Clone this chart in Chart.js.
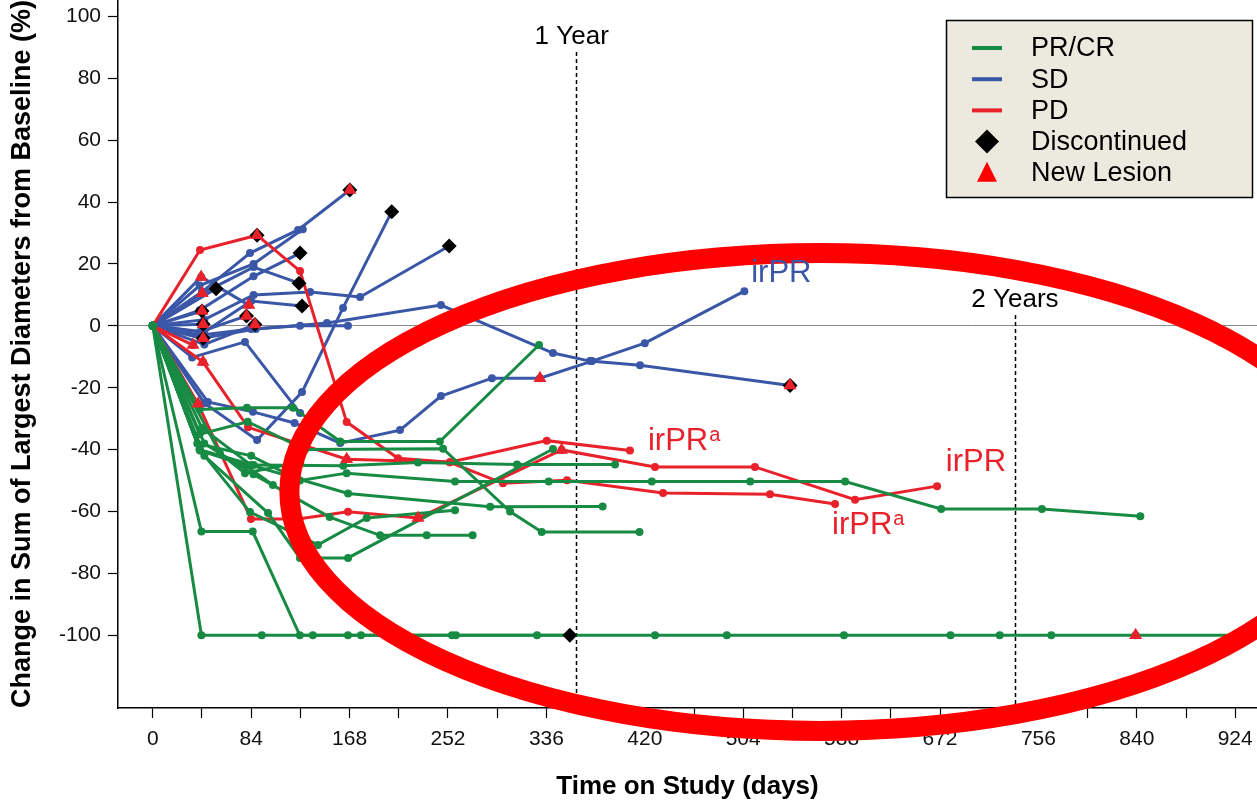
<!DOCTYPE html>
<html>
<head>
<meta charset="utf-8">
<title>Spider plot: change in tumour burden over time</title>
<script src="https://cdn.jsdelivr.net/npm/chart.js@4.4.0/dist/chart.umd.min.js"></script>
<style>
  html, body { margin: 0; padding: 0; background: #ffffff; overflow: hidden; }
  #wrap { width: 1257px; height: 800px; position: relative; }
  canvas { display: block; }
</style>
</head>
<body>
<div id="wrap"><canvas id="spider" width="1257" height="800"></canvas></div>
<script>
// ---- Patient trajectories: [day on study, % change in sum of largest diameters] ----

// PR/CR patients
const prcr01 = [[0,0],[41.5,-100],[93,-100],[166.6,-100],[255.4,-100],[328,-100],[428.7,-100],[490,-100],[590,-100],[681,-100],[723,-100],[767,-100],[839,-100],[958,-100]];
const prcr02 = [[0,0],[41.5,-66.5],[85.3,-66.5],[125.5,-100],[136.6,-100],[177.7,-100],[258.7,-100],[356,-100]];
const prcr03 = [[0,0],[40,-27],[80.4,-26.5],[119.7,-26.5],[160,-37.4],[245,-37.4],[329.7,-6.2]];
const prcr04 = [[0,0],[40,-35],[81,-31],[130,-40],[247.8,-39.7],[305,-60],[332,-66.6],[415.5,-66.6]];
const prcr05 = [[0,0],[38,-38],[84,-42],[125.7,-50],[165.5,-47.6],[258,-50.3],[338,-50.3],[426,-50.3],[510,-50.3],[591,-50.3],[673,-59.2],[759,-59.2],[843,-61.5]];
const prcr06 = [[0,0],[40,-40],[86,-45],[162.6,-45.2],[226.4,-44.2],[310.9,-44.8],[394.6,-44.8]];
const prcr07 = [[0,0],[42,-33],[84,-45],[166.7,-54.2],[288,-58.5],[384,-58.4]];
const prcr08 = [[0,0],[44,-38],[86,-48],[151,-61.8],[194,-67.7],[233.8,-67.7],[273,-67.7]];
const prcr09 = [[0,0],[40,-40],[83,-60.2],[141,-70.8],[182.6,-62.1],[258,-59.6]];
const prcr10 = [[0,0],[44,-42],[98.4,-60.5],[125.6,-75],[166.7,-75],[341.6,-39.8]];
const prcr11 = [[0,0],[40.3,-40.3],[78.7,-45],[102.5,-51.4]];
const prcr12 = [[0,0],[57.4,-41.3],[78.7,-47.6],[126,-44]];

// SD patients
const sd01 = [[0,0],[42,11],[83,23.5],[124,31],[168.2,43.9]];
const sd02 = [[0,0],[40,13],[86,20],[128,31.2]];
const sd03 = [[0,0],[40,5],[86,16],[125.7,23.5]];
const sd04 = [[0,0],[42.2,10.5],[86,19],[124.8,13.8]];
const sd05 = [[0,0],[44,-2],[84,8],[127.4,6.4]];
const sd06 = [[0,0],[44,2],[86,10],[134.3,10.9],[177,9.3],[253,25.8]];
const sd07 = [[0,0],[44,-25],[89,-36.9],[127.4,-21.4],[162.4,5.8],[204,36.9]];
const sd08 = [[0,0],[40,-3],[84,-1],[125.7,0],[166.6,0]];
const sd09 = [[0,0],[42,-4],[88,-1],[148.7,0.9],[246,6.7],[341.6,-8.8],[373.2,-11.4],[415.9,-12.7],[544,-19.3]];
const sd10 = [[0,0],[47,-24.6],[85.5,-27.8],[121,-31.4],[160,-37.9],[211,-33.7],[246,-22.7],[289.5,-16.9],[330.5,-16.9],[375,-11.4],[420,-5.6],[505,11.2]];
const sd11 = [[0,0],[33.6,-10.2],[78.7,-5.2],[125.7,-28.2]];
const sd12 = [[0,0],[42,4.8]];
const sd13 = [[0,0],[43,0.5]];
const sd14 = [[0,0],[43,-4]];
const sd15 = [[0,0],[54,12]];
const sd16 = [[0,0],[41.3,15.8],[82,6.7]];
const sd17 = [[0,0],[40,-2],[80,3.2]];
const sd18 = [[0,0],[44,-6],[87.2,0.4]];

// PD patients
const pd01 = [[0,0],[40.3,24.5],[89,29.3],[125.7,17.7],[165.5,-31.1],[209.3,-42.8],[253.6,-44.1],[298.9,-50.9],[353.6,-49.9],[435.6,-54],[526.9,-54.4],[582.4,-57.6]];
const pd02 = [[0,0],[42.9,-11.7],[81.3,-32.8],[165.5,-43.1],[253.6,-44.1],[336.3,-37.1],[407.3,-40.3]];
const pd03 = [[0,0],[38.6,-25.2],[83.8,-62.4],[124,-62.4],[166.6,-60.1],[226.4,-62.1],[349,-40.1],[428.7,-45.6],[514,-45.6],[599.5,-56.2],[669.5,-51.8]];
const pd04 = [[0,0],[34.3,-6.2]];

// Event markers
const discontinued = [[168.2,43.9],[204,36.9],[253,25.8],[125.7,23.5],[124.8,13.8],[127.4,6.4],[54,12],[89,29.3],[42,4.8],[43,0.5],[43,-4],[80,3.2],[87.2,0.4],[544,-19.3],[356,-100]];
const newLesion = [[168.2,43.9],[89,29.3],[41.3,15.8],[42.2,10.5],[42,4.8],[43,0.5],[43,-4],[82,6.7],[80,3.2],[87.2,0.4],[34.3,-6.2],[42.9,-11.7],[38.6,-25.2],[165.5,-43.1],[226.4,-62.1],[349,-40.1],[330.5,-16.9],[544,-19.3],[839,-100]];

// Axes
const xTickValues = [0,42,84,126,168,210,252,294,336,378,420,462,504,546,588,630,672,714,756,798,840,882,924];
const xTickLabels = [0,84,168,252,336,420,504,588,672,756,840,924];
const yTickValues = [-100,-80,-60,-40,-20,0,20,40,60,80,100];
const X_MIN = -29.7, X_MAX = 942.6;
const Y_MIN = -123.5, Y_MAX = 105.3;

// Study milestones (days) and annotation texts
const milestoneDays = [361, 736];
const milestoneLabels = ['1 Year', '2 Years'];
const milestoneLabelValues = [93.3, 8.3];
const milestoneTopValues = [88.5, 3.5];
const milestoneLabelShift = [-4, 0];

const responseTags = ['irPR', 'irPR', 'irPR', 'irPR'];
const responseSups = ['', 'a', 'a', ''];
const responseDays = [510.8, 422.7, 579.8, 677];
const responseValues = [17, -37.5, -64.4, -44];
const responseGroups = ['SD', 'PD', 'PD', 'PD'];

// Highlighted region of late, durable responses (centre and half-axes in data units)
const highlightCentre = [569.6, -53.7];
const highlightRadii = [453, 77.2];

// ---- Styling ----
const GREEN = '#178a43';
const BLUE = '#3a57a7';
const RED = '#e8212b';
const groupColor = { 'PR/CR': GREEN, 'SD': BLUE, 'PD': RED };
const FONT = '"Liberation Sans", Arial, Helvetica, sans-serif';

const prcrSeries = [prcr01,prcr02,prcr03,prcr04,prcr05,prcr06,prcr07,prcr08,prcr09,prcr10,prcr11,prcr12];
const sdSeries = [sd01,sd02,sd03,sd04,sd05,sd06,sd07,sd08,sd09,sd10,sd11,sd12,sd13,sd14,sd15,sd16,sd17,sd18];
const pdSeries = [pd01,pd02,pd03,pd04];

const toXY = pts => pts.map(([x, y]) => ({ x, y }));

function trajectory(points, color, order) {
  return {
    data: toXY(points),
    showLine: true,
    borderColor: color,
    backgroundColor: color,
    borderWidth: 3,
    pointRadius: 4,
    pointBorderWidth: 0,
    pointBackgroundColor: color,
    order
  };
}

const datasets = [
  ...sdSeries.map(p => trajectory(p, BLUE, 6)),
  ...pdSeries.map(p => trajectory(p, RED, 5)),
  ...prcrSeries.map(p => trajectory(p, GREEN, 4)),
  {
    data: toXY(discontinued), showLine: false, pointStyle: 'rectRot',
    pointRadius: 7.5, pointBorderWidth: 0, pointBackgroundColor: '#000', backgroundColor: '#000', order: 2
  },
  {
    data: toXY(newLesion), showLine: false, pointStyle: 'triangle',
    pointRadius: 7.5, pointBorderWidth: 0, pointBackgroundColor: RED, backgroundColor: RED, order: 1
  }
];

// ---- Custom drawing: milestones, highlight ellipse, response tags, legend ----
const legendEntries = [
  { label: 'PR/CR', kind: 'line', color: GREEN },
  { label: 'SD', kind: 'line', color: BLUE },
  { label: 'PD', kind: 'line', color: RED },
  { label: 'Discontinued', kind: 'diamond', color: '#000' },
  { label: 'New Lesion', kind: 'triangle', color: '#ff0000' }
];

const extras = {
  id: 'spiderExtras',
  beforeDatasetsDraw(chart) {
    const { ctx, scales: { x, y }, chartArea } = chart;
    ctx.save();
    ctx.strokeStyle = '#000';
    ctx.lineWidth = 1.5;
    ctx.setLineDash([4, 3]);
    milestoneDays.forEach((d, i) => {
      const px = Math.round(x.getPixelForValue(d)) + 0.5;
      ctx.beginPath();
      ctx.moveTo(px, y.getPixelForValue(milestoneTopValues[i]));
      ctx.lineTo(px, chartArea.bottom);
      ctx.stroke();
    });
    ctx.restore();
  },
  afterDraw(chart) {
    const { ctx, scales: { x, y } } = chart;

    // highlight ellipse
    const cx = x.getPixelForValue(highlightCentre[0]);
    const cy = y.getPixelForValue(highlightCentre[1]);
    const rx = x.getPixelForValue(highlightCentre[0] + highlightRadii[0]) - cx;
    const ry = cy - y.getPixelForValue(highlightCentre[1] + highlightRadii[1]);
    ctx.save();
    ctx.strokeStyle = '#ff0000';
    ctx.lineWidth = 20;
    ctx.beginPath();
    ctx.ellipse(cx, cy, rx, ry, 0, 0, Math.PI * 2);
    ctx.stroke();
    ctx.restore();

    // milestone captions and response tags
    ctx.save();
    ctx.fillStyle = '#000';
    ctx.textAlign = 'center';
    ctx.textBaseline = 'middle';
    ctx.font = '26px ' + FONT;
    milestoneDays.forEach((d, i) => {
      ctx.fillText(milestoneLabels[i], x.getPixelForValue(d) + milestoneLabelShift[i], y.getPixelForValue(milestoneLabelValues[i]));
    });
    ctx.textAlign = 'left';
    responseTags.forEach((t, i) => {
      const px = x.getPixelForValue(responseDays[i]);
      const py = y.getPixelForValue(responseValues[i]);
      ctx.fillStyle = groupColor[responseGroups[i]];
      ctx.font = '31px ' + FONT;
      ctx.fillText(t, px, py);
      if (responseSups[i]) {
        const w = ctx.measureText(t).width;
        ctx.font = '20px ' + FONT;
        ctx.fillText(responseSups[i], px + w + 1, py - 6);
      }
    });
    ctx.restore();

    // legend box
    const box = { left: 946.5, top: 20.5, width: 306, height: 177 };
    ctx.save();
    ctx.fillStyle = '#ece9df';
    ctx.fillRect(box.left, box.top, box.width, box.height);
    ctx.strokeStyle = '#000';
    ctx.lineWidth = 1.5;
    ctx.strokeRect(box.left, box.top, box.width, box.height);
    ctx.font = '27px ' + FONT;
    ctx.textBaseline = 'middle';
    ctx.textAlign = 'left';
    legendEntries.forEach((e, i) => {
      const rowY = 48 + i * 31.2;
      const sx = 987;
      if (e.kind === 'line') {
        ctx.strokeStyle = e.color;
        ctx.lineWidth = 4;
        ctx.beginPath();
        ctx.moveTo(972, rowY);
        ctx.lineTo(1002, rowY);
        ctx.stroke();
      } else if (e.kind === 'diamond') {
        ctx.fillStyle = e.color;
        ctx.beginPath();
        ctx.moveTo(sx, rowY - 12);
        ctx.lineTo(sx + 12, rowY);
        ctx.lineTo(sx, rowY + 12);
        ctx.lineTo(sx - 12, rowY);
        ctx.closePath();
        ctx.fill();
      } else {
        ctx.fillStyle = e.color;
        ctx.beginPath();
        ctx.moveTo(sx, rowY - 11);
        ctx.lineTo(sx + 10, rowY + 9);
        ctx.lineTo(sx - 10, rowY + 9);
        ctx.closePath();
        ctx.fill();
      }
      ctx.fillStyle = '#000';
      ctx.fillText(e.label, 1031, rowY + 1);
    });
    ctx.restore();
  }
};

Chart.defaults.font.family = FONT;

new Chart(document.getElementById('spider'), {
  type: 'scatter',
  data: { datasets },
  options: {
    responsive: false,
    devicePixelRatio: 1,
    animation: false,
    events: [],
    layout: { padding: 0, autoPadding: false },
    plugins: { legend: { display: false }, tooltip: { enabled: false } },
    scales: {
      x: {
        type: 'linear',
        min: X_MIN,
        max: X_MAX,
        afterBuildTicks: s => { s.ticks = xTickValues.map(v => ({ value: v })); },
        afterFit: s => { s.height = 92; s.paddingLeft = 0; s.paddingRight = 0; },
        ticks: {
          autoSkip: false,
          maxRotation: 0,
          padding: 9,
          color: '#111',
          font: { size: 21 },
          callback: v => (xTickLabels.includes(v) ? String(v) : '')
        },
        grid: { drawOnChartArea: false, drawTicks: true, tickLength: 10, tickColor: '#000', tickWidth: 1.2 },
        border: { display: true, color: '#000', width: 1.5 },
        title: {
          display: true,
          text: 'Time on Study (days)',
          color: '#000',
          font: { size: 26, weight: 'bold', lineHeight: 1 },
          padding: { top: 0, bottom: 0 }
        }
      },
      y: {
        type: 'linear',
        min: Y_MIN,
        max: Y_MAX,
        afterBuildTicks: s => { s.ticks = yTickValues.map(v => ({ value: v })); },
        afterFit: s => { s.width = 118; s.paddingTop = 0; s.paddingBottom = 0; },
        ticks: {
          padding: 7,
          color: '#111',
          font: { size: 21 },
          callback: v => String(v)
        },
        grid: {
          drawOnChartArea: true,
          drawTicks: true,
          tickLength: 10,
          tickWidth: 1.2,
          tickColor: '#000',
          lineWidth: 1,
          color: c => (c.tick && c.tick.value === 0 ? '#8a8a8a' : 'rgba(0,0,0,0)')
        },
        border: { display: true, color: '#000', width: 1.5 },
        title: {
          display: true,
          text: 'Change in Sum of Largest Diameters from Baseline (%)',
          color: '#000',
          font: { size: 27, weight: 'bold', lineHeight: 1 },
          padding: { top: 9, bottom: 0 }
        }
      }
    }
  },
  plugins: [extras]
});
</script>
</body>
</html>
